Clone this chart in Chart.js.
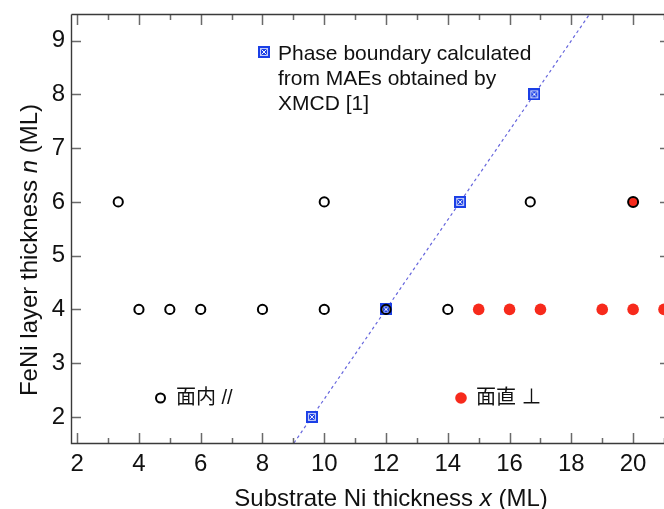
<!DOCTYPE html>
<html><head><meta charset="utf-8">
<script src="https://cdn.jsdelivr.net/npm/chart.js@4.4.1/dist/chart.umd.min.js"></script>
<style>html,body{margin:0;padding:0;background:#fff}canvas{display:block}</style>
</head><body>
<canvas id="c" width="664" height="509"></canvas>
<script>
// ---- data ----
const xTickLabels = [2, 4, 6, 8, 10, 12, 14, 16, 18, 20];
const xMinorTicks = [3, 5, 7, 9, 11, 13, 15, 17, 19, 21];
const yTickLabels = [2, 3, 4, 5, 6, 7, 8, 9];

const inPlaneX = [3.33, 10, 16.67, 4, 5, 6, 8, 10, 12, 14];
const inPlaneN = [6, 6, 6, 4, 4, 4, 4, 4, 4, 4];

const perpX = [15, 16, 17, 19, 20, 21];
const perpN = [4, 4, 4, 4, 4, 4];

const mixedX = [20];
const mixedN = [6];

const boundaryX = [9.6, 12, 14.4, 16.8];
const boundaryN = [2, 4, 6, 8];

const legendBoundaryLines = ['Phase boundary calculated', 'from MAEs obtained by', 'XMCD [1]'];
const legendInPlane = '面内 //';
const legendPerp = '面直 ⊥';
const xTitleParts = [['Substrate Ni thickness ', false], ['x', true], [' (ML)', false]];
const yTitleParts = [['FeNi layer thickness ', false], ['n', true], [' (ML)', false]];

// ---- styles ----
const FONT = '"Liberation Sans", Arial, "Noto Sans CJK JP", "DejaVu Sans", sans-serif';
const RED = '#f72a1c';
const BLUE = '#1b3fe6';
const toPts = (xs, ys) => xs.map((x, i) => ({x: x, y: ys[i]}));

function makeBoundaryMarker() {
  const s = 12;
  const c = document.createElement('canvas');
  c.width = s; c.height = s;
  const g = c.getContext('2d');
  g.fillStyle = BLUE; g.fillRect(0, 0, s, s);
  g.strokeStyle = 'rgba(255,255,255,0.75)'; g.lineWidth = 1;
  g.strokeRect(2.5, 2.5, s - 5, s - 5);
  g.strokeStyle = 'rgba(255,255,255,0.95)';
  g.lineWidth = 1;
  g.beginPath();
  g.moveTo(3.5, 3.5); g.lineTo(s - 3.5, s - 3.5);
  g.moveTo(s - 3.5, 3.5); g.lineTo(3.5, s - 3.5);
  g.stroke();
  return c;
}
const boundaryMarker = makeBoundaryMarker();

function drawParts(ctx, parts, size, x, y, center) {
  const fontOf = it => (it ? 'italic ' : '') + size + 'px ' + FONT;
  let total = 0;
  parts.forEach(p => { ctx.font = fontOf(p[1]); total += ctx.measureText(p[0]).width; });
  let cx = center ? x - total / 2 : x;
  parts.forEach(p => {
    ctx.font = fontOf(p[1]);
    ctx.fillText(p[0], cx, y);
    cx += ctx.measureText(p[0]).width;
  });
}

const framePlugin = {
  id: 'frame',
  beforeDatasetsDraw(chart) {
    const {ctx, chartArea: a, scales: {x, y}} = chart;
    ctx.save();
    const n0 = boundaryN[0], n1 = boundaryN[boundaryN.length - 1];
    const x0 = boundaryX[0], x1 = boundaryX[boundaryX.length - 1];
    const slope = (x1 - x0) / (n1 - n0);
    const xAt = n => x0 + (n - n0) * slope;
    ctx.beginPath();
    ctx.rect(a.left, a.top, a.right - a.left, a.bottom - a.top);
    ctx.clip();
    ctx.strokeStyle = '#6666dd';
    ctx.lineWidth = 1.2;
    ctx.setLineDash([3, 3]);
    ctx.beginPath();
    ctx.moveTo(x.getPixelForValue(xAt(y.min)), y.getPixelForValue(y.min));
    ctx.lineTo(x.getPixelForValue(xAt(y.max)), y.getPixelForValue(y.max));
    ctx.stroke();
    ctx.restore();

    ctx.save();
    ctx.setLineDash([]);
    ctx.strokeStyle = '#6a6a6a';
    ctx.lineWidth = 1.5;
    ctx.beginPath();
    xTickLabels.forEach(v => {
      const px = Math.round(x.getPixelForValue(v)) + 0.5;
      ctx.moveTo(px, a.bottom); ctx.lineTo(px, a.bottom - 10);
      ctx.moveTo(px, a.top); ctx.lineTo(px, a.top + 11);
    });
    xMinorTicks.forEach(v => {
      const px = Math.round(x.getPixelForValue(v)) + 0.5;
      ctx.moveTo(px, a.bottom); ctx.lineTo(px, a.bottom - 5);
      ctx.moveTo(px, a.top); ctx.lineTo(px, a.top + 6);
    });
    yTickLabels.forEach(v => {
      const py = Math.round(y.getPixelForValue(v)) + 0.5;
      ctx.moveTo(a.left, py); ctx.lineTo(a.left + 10, py);
      ctx.moveTo(a.right + 6, py); ctx.lineTo(a.right - 4, py);
    });
    ctx.stroke();
    ctx.strokeStyle = '#3a3a3a';
    ctx.lineWidth = 1.4;
    ctx.beginPath();
    ctx.moveTo(a.left + 0.5, a.top + 0.5);
    ctx.lineTo(a.left + 0.5, a.bottom + 0.5);
    ctx.lineTo(a.right + 6, a.bottom + 0.5);
    ctx.moveTo(a.left + 0.5, a.top + 0.5);
    ctx.lineTo(a.right + 6, a.top + 0.5);
    ctx.stroke();
    ctx.restore();
  },
  afterDraw(chart) {
    const {ctx} = chart;
    ctx.save();
    ctx.fillStyle = '#111';
    ctx.textBaseline = 'alphabetic';
    drawParts(ctx, xTitleParts, 24, 391, 506, true);
    ctx.save();
    ctx.translate(37, 250);
    ctx.rotate(-Math.PI / 2);
    drawParts(ctx, yTitleParts, 24, 0, 0, true);
    ctx.restore();
    ctx.drawImage(boundaryMarker, 264 - 6, 52 - 6);
    ctx.font = '21px ' + FONT;
    legendBoundaryLines.forEach((t, i) => ctx.fillText(t, 278, 60 + i * 25));
    ctx.strokeStyle = '#000'; ctx.lineWidth = 2;
    ctx.beginPath(); ctx.arc(160.5, 398, 4.5, 0, Math.PI * 2); ctx.stroke();
    ctx.font = '20px ' + FONT;
    ctx.textBaseline = 'middle';
    ctx.fillText(legendInPlane, 176, 398);
    ctx.fillStyle = RED;
    ctx.beginPath(); ctx.arc(461, 398, 5.8, 0, Math.PI * 2); ctx.fill();
    ctx.fillStyle = '#111';
    ctx.fillText(legendPerp, 476, 398);
    ctx.restore();
  }
};

new Chart(document.getElementById('c'), {
  type: 'scatter',
  data: {
    datasets: [
      { label: 'in-plane', data: toPts(inPlaneX, inPlaneN), pointStyle: 'circle',
        pointRadius: 4.6, pointBorderWidth: 2, pointBorderColor: '#000',
        pointBackgroundColor: 'rgba(0,0,0,0)', showLine: false, clip: false },
      { label: 'mixed', data: toPts(mixedX, mixedN), pointStyle: 'circle',
        pointRadius: 5, pointBorderWidth: 2, pointBorderColor: '#000',
        pointBackgroundColor: RED, showLine: false, clip: false },
      { label: 'perpendicular', data: toPts(perpX, perpN), pointStyle: 'circle',
        pointRadius: 5.8, pointBorderWidth: 0, pointBorderColor: RED,
        pointBackgroundColor: RED, showLine: false, clip: false },
      { label: 'boundary', data: toPts(boundaryX, boundaryN), pointStyle: boundaryMarker,
        pointRadius: 6, showLine: false, clip: false }
    ]
  },
  options: {
    responsive: false,
    animation: false,
    devicePixelRatio: 1,
    layout: { autoPadding: false, padding: { top: 14, right: 0, left: 0, bottom: 0 } },
    plugins: { legend: { display: false }, tooltip: { enabled: false } },
    scales: {
      x: {
        type: 'linear', min: 1.8, max: 21.0,
        grid: { display: false, drawTicks: false, tickLength: 0 },
        border: { display: false },
        afterBuildTicks: s => { s.ticks = xTickLabels.map(v => ({value: v})); },
        afterFit: s => { s.height = 66; s.paddingLeft = 0; s.paddingRight = 0; s.paddingTop = 0; s.paddingBottom = 0; },
        ticks: { padding: 7, color: '#111', font: { family: FONT, size: 24 } }
      },
      y: {
        type: 'linear', min: 1.515, max: 9.495,
        grid: { display: false, drawTicks: false, tickLength: 0 },
        border: { display: false },
        afterBuildTicks: s => { s.ticks = yTickLabels.map(v => ({value: v})); },
        afterFit: s => { s.width = 71; s.paddingLeft = 0; s.paddingRight = 0; s.paddingTop = 0; s.paddingBottom = 0; },
        ticks: { padding: 6, color: '#111', font: { family: FONT, size: 24 } }
      }
    }
  },
  plugins: [framePlugin]
});
</script>
</body></html>
